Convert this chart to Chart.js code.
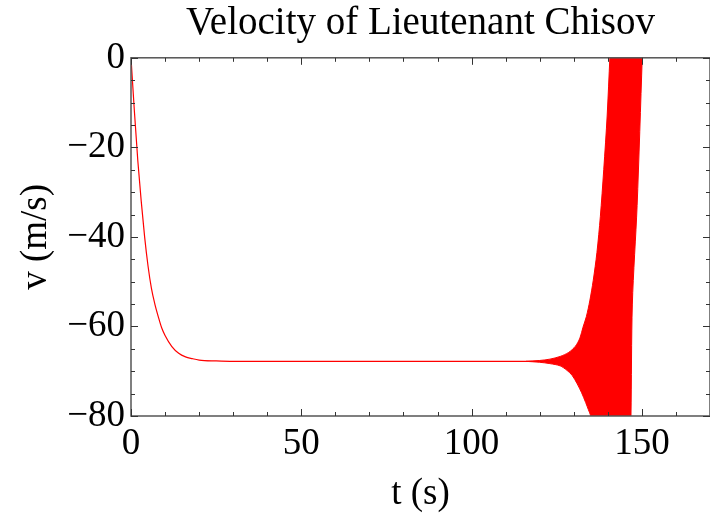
<!DOCTYPE html>
<html>
<head>
<meta charset="utf-8">
<script src="https://cdn.jsdelivr.net/npm/chart.js@4"></script>
<style>
  html, body { margin: 0; padding: 0; background: #fff; }
  #wrap { width: 710px; height: 516px; }
</style>
</head>
<body>
<div id="wrap"><canvas id="myChart"></canvas></div>
<script>
// velocity curve (t in s, v in m/s)
const curveTime = [0, 1, 2, 3, 4, 5, 6, 7, 8, 9, 10, 12, 14, 16, 18, 20, 25, 30, 60, 90, 116, 124];
const curveVel = [0, -12, -23, -32, -40, -46.5, -51.5, -55, -57.8, -60.3, -62, -64.5, -66, -66.8, -67.2, -67.5, -67.7, -67.8, -67.8, -67.8, -67.8, -67.8];

// oscillation band outline: lower envelope, right edge, upper envelope (back to the left)
const bandLowerTime = [116, 120, 123, 126, 128, 129.5, 131, 132.3, 133.5, 134.3, 135, 135.5];
const bandLowerVel = [-67.8, -68.0, -68.3, -68.8, -69.8, -70.9, -72.8, -74.8, -77, -78.6, -80, -82];
const bandEdgeTime = [146.6, 146.8, 147.2, 148.6, 150.1, 150.2];
const bandEdgeVel = [-83, -80, -55, -33, 0, 3];
const bandUpperTime = [140.8, 140.6, 139.8, 138.8, 137.8, 136.8, 135.7, 134.7, 133.7, 132.7, 131.8, 130.5, 128.5, 126, 123, 120, 116];
const bandUpperVel = [3, 0, -13, -25, -35.5, -43.5, -49.8, -54.3, -57.8, -60.2, -62.6, -64.4, -65.8, -66.7, -67.3, -67.6, -67.8];

const xMajor = [0, 50, 100, 150];
const yMajor = [0, -20, -40, -60, -80];

const serif = "'Liberation Serif', 'Times New Roman', serif";

function pts(ts, vs) {
  return ts.map((t, i) => ({ x: t, y: vs[i] }));
}
function fmt(v) {
  return v < 0 ? '\u2212' + Math.abs(v) : String(v);
}

const bandShape = pts(bandLowerTime, bandLowerVel)
  .concat(pts(bandEdgeTime, bandEdgeVel))
  .concat(pts(bandUpperTime, bandUpperVel));

// frame on all four sides with inward ticks, like the original plot
const frameTicks = {
  id: 'frameTicks',
  afterDraw(chart) {
    const { ctx, chartArea: a, scales: { x, y } } = chart;
    ctx.save();
    ctx.strokeStyle = '#555';
    ctx.lineWidth = 1.5;
    ctx.strokeRect(a.left, a.top, a.right - a.left, a.bottom - a.top);
    ctx.lineWidth = 1;
    ctx.strokeStyle = '#333';
    ctx.beginPath();
    x.ticks.forEach(t => {
      const px = Math.round(x.getPixelForValue(t.value)) + 0.5;
      const len = xMajor.includes(t.value) ? 7 : 4;
      ctx.moveTo(px, a.bottom); ctx.lineTo(px, a.bottom - len);
      ctx.moveTo(px, a.top); ctx.lineTo(px, a.top + len);
    });
    y.ticks.forEach(t => {
      const py = Math.round(y.getPixelForValue(t.value)) + 0.5;
      const len = yMajor.includes(t.value) ? 7 : 4;
      ctx.moveTo(a.left, py); ctx.lineTo(a.left + len, py);
      ctx.moveTo(a.right, py); ctx.lineTo(a.right - len, py);
    });
    ctx.stroke();
    ctx.restore();
  }
};

const data = {
  datasets: [
    {
      label: 'v',
      data: pts(curveTime, curveVel),
      borderColor: 'rgb(255, 0, 0)',
      borderWidth: 1.2,
      pointRadius: 0,
      cubicInterpolationMode: 'monotone',
      fill: false
    },
    {
      label: 'oscillation',
      data: bandShape,
      borderColor: 'rgb(255, 0, 0)',
      backgroundColor: 'rgb(255, 0, 0)',
      borderWidth: 1,
      pointRadius: 0,
      tension: 0.3,
      fill: 'shape'
    }
  ]
};

const config = {
  type: 'line',
  data: data,
  options: {
    responsive: true,
    maintainAspectRatio: false,
    animation: false,
    layout: { padding: 0 },
    plugins: {
      legend: { display: false },
      tooltip: { enabled: false },
      title: {
        display: true,
        fullSize: false,
        text: 'Velocity of Lieutenant Chisov',
        color: '#000',
        font: { family: serif, size: 39, weight: 'normal' },
        padding: { top: 0, bottom: 11 }
      }
    },
    scales: {
      x: {
        type: 'linear',
        min: 0,
        max: 170,
        grid: { display: false, drawTicks: false },
        border: { display: false },
        ticks: {
          stepSize: 10,
          autoSkip: false,
          maxRotation: 0,
          padding: 6,
          color: '#000',
          font: { family: serif, size: 37 },
          callback: v => xMajor.includes(v) ? fmt(v) : ''
        },
        title: {
          display: true,
          text: 't (s)',
          color: '#000',
          font: { family: serif, size: 37 },
          padding: { top: 8, bottom: 0 }
        },
        afterFit: s => { s.height = 100; s.paddingLeft = 0; s.paddingRight = 0; }
      },
      y: {
        type: 'linear',
        min: -80,
        max: 0,
        grid: { display: false, drawTicks: false },
        border: { display: false },
        ticks: {
          stepSize: 5,
          autoSkip: false,
          padding: 6,
          color: '#000',
          font: { family: serif, size: 37 },
          callback: v => yMajor.includes(v) ? fmt(v) : ''
        },
        title: {
          display: true,
          text: 'v (m/s)',
          color: '#000',
          font: { family: serif, size: 37 },
          padding: { top: 14, bottom: 0 }
        },
        afterFit: s => { s.width = 131; }
      }
    }
  },
  plugins: [frameTicks]
};

const myChart = new Chart(document.getElementById('myChart'), config);
</script>
</body>
</html>
